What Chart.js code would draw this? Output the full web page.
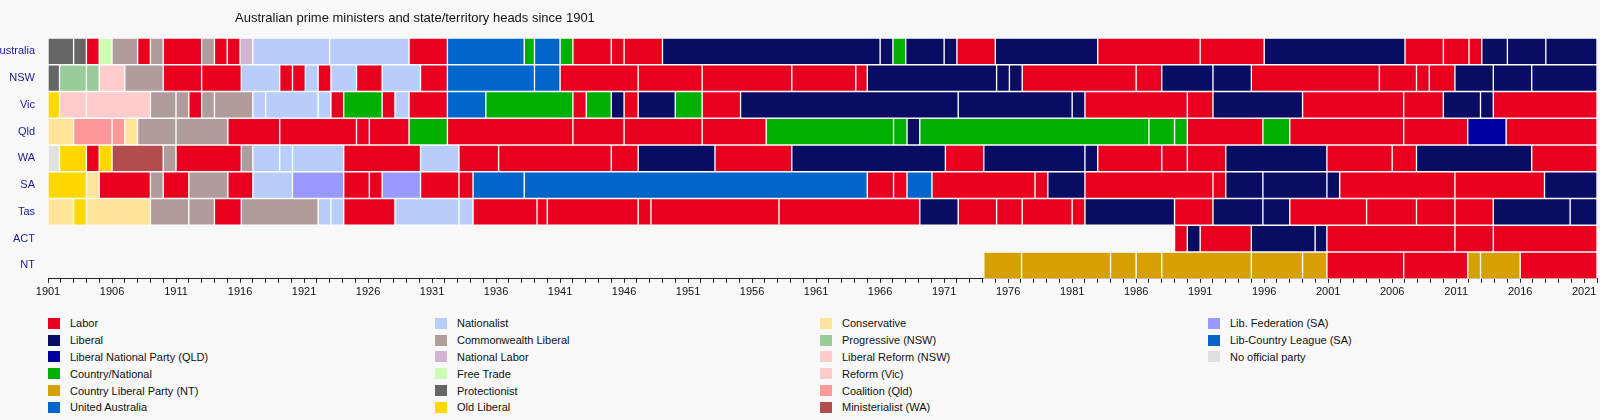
<!DOCTYPE html>
<html>
<head>
<meta charset="utf-8">
<script src="https://cdn.jsdelivr.net/npm/chart.js@4"></script>
<style>
  body { margin: 0; background: #f8f8f8; font-family: "Liberation Sans", Arial, sans-serif; }
  #wrap { position: relative; width: 1600px; height: 420px; }
  #title { position: absolute; left: 235px; top: 10px; font-size: 13px; color: #111; }
  #legend { position: absolute; left: 48px; top: 315px; width: 1550px; font-size: 11px; color: #111; }
  .col { position: absolute; top: 0; }
  .item { height: 16.8px; display: flex; align-items: center; white-space: nowrap; }
  .sw { width: 12px; height: 11px; margin-right: 10px; }
</style>
</head>
<body>
<div id="wrap">
  <div id="title">Australian prime ministers and state/territory heads since 1901</div>
  <canvas id="c" width="1600" height="302"></canvas>
  <div id="legend"></div>
</div>
<script>
const rows = ['Australia', 'NSW', 'Vic', 'Qld', 'WA', 'SA', 'Tas', 'ACT', 'NT'];

const partyColors = {
  'Labor': '#e8001e', 'Liberal': '#080c63', 'Liberal National Party (QLD)': '#0000a0',
  'Country/National': '#00b000', 'Country Liberal Party (NT)': '#d6a000', 'United Australia': '#0066cc',
  'Nationalist': '#b8cdfa', 'Commonwealth Liberal': '#b09c9a', 'National Labor': '#d2b4d2',
  'Free Trade': '#ccffb3', 'Protectionist': '#666666', 'Old Liberal': '#ffd700',
  'Conservative': '#ffe399', 'Progressive (NSW)': '#99cc99', 'Liberal Reform (NSW)': '#ffcccc',
  'Reform (Vic)': '#ffcccc', 'Coalition (Qld)': '#ff9999', 'Ministerialist (WA)': '#b34d4d',
  'Lib. Federation (SA)': '#9999ff', 'Lib-Country League (SA)': '#0066cc', 'No official party': '#e0e0e0'
};
const legendCols = [
  ['Labor', 'Liberal', 'Liberal National Party (QLD)', 'Country/National', 'Country Liberal Party (NT)', 'United Australia'],
  ['Nationalist', 'Commonwealth Liberal', 'National Labor', 'Free Trade', 'Protectionist', 'Old Liberal'],
  ['Conservative', 'Progressive (NSW)', 'Liberal Reform (NSW)', 'Reform (Vic)', 'Coalition (Qld)', 'Ministerialist (WA)'],
  ['Lib. Federation (SA)', 'Lib-Country League (SA)', 'No official party']
];

const L = 'Labor', LIB = 'Liberal', CP = 'Country/National', UAP = 'United Australia', NAT = 'Nationalist',
      CL = 'Commonwealth Liberal', PROT = 'Protectionist', OL = 'Old Liberal', CON = 'Conservative',
      CLP = 'Country Liberal Party (NT)';

const australia = [[1901,1903,PROT],[1903,1904,PROT],[1904,1905,L],[1905,1906,'Free Trade'],[1906,1908,CL],[1908,1909,L],
  [1909,1910,CL],[1910,1913,L],[1913,1914,CL],[1914,1915,L],[1915,1916,L],[1916,1917,'National Labor'],[1917,1923,NAT],
  [1923,1929.2,NAT],[1929.2,1932.2,L],[1932.2,1938.2,UAP],[1938.2,1939,CP],[1939,1941,UAP],[1941,1942,CP],[1942,1945,L],
  [1945,1946,L],[1946,1949,L],[1949,1966,LIB],[1966,1967,LIB],[1967,1968,CP],[1968,1971,LIB],[1971,1972,LIB],[1972,1975,L],
  [1975,1983,LIB],[1983,1991,L],[1991,1996,L],[1996,2007,LIB],[2007,2010,L],[2010,2012,L],[2012,2013,L],[2013,2015,LIB],
  [2015,2018,LIB],[2018,2022,LIB]];
const nsw = [[1901,1901.9,PROT],[1901.9,1904,'Progressive (NSW)'],[1904,1905,'Progressive (NSW)'],[1905,1907,'Liberal Reform (NSW)'],
  [1907,1910,CL],[1910,1913,L],[1913,1916.1,L],[1916.1,1919.1,NAT],[1919.1,1920.1,L],[1920.1,1921.1,L],[1921.1,1922.1,NAT],
  [1922.1,1923.1,L],[1923.1,1925.1,NAT],[1925.1,1927.1,L],[1927.1,1930.1,NAT],[1930.1,1932.2,L],[1932.2,1939,UAP],[1939,1941,UAP],
  [1941,1947.1,L],[1947.1,1952.1,L],[1952.1,1959.1,L],[1959.1,1964.1,L],[1964.1,1965,L],[1965,1975.1,LIB],[1975.1,1976.1,LIB],
  [1976.1,1977.1,LIB],[1977.1,1986,L],[1986,1988,L],[1988,1992,LIB],[1992,1995,LIB],[1995,2005,L],[2005,2007.9,L],
  [2007.9,2008.9,L],[2008.9,2010.9,L],[2010.9,2013.9,LIB],[2013.9,2016.9,LIB],[2016.9,2022,LIB]];
const vic = [[1901,1901.9,OL],[1901.9,1904,'Reform (Vic)'],[1904,1909,'Reform (Vic)'],[1909,1911,CL],[1911,1912,CL],[1912,1913,L],
  [1913,1914,CL],[1914,1917,CL],[1917,1918,NAT],[1918,1922.1,NAT],[1922.1,1923.1,NAT],[1923.1,1924.1,L],[1924.1,1927.1,CP],
  [1927.1,1928.1,L],[1928.1,1929.2,NAT],[1929.2,1932.2,L],[1932.2,1935.2,UAP],[1935.2,1942,CP],[1942,1943.05,L],[1943.05,1945,CP],
  [1945,1946,LIB],[1946,1947.1,L],[1947.1,1950,LIB],[1950,1952.1,CP],[1952.1,1955.1,L],[1955.1,1972.1,LIB],[1972.1,1981,LIB],
  [1981,1982,LIB],[1982,1990,L],[1990,1992,L],[1992,1999,LIB],[1999,2006.9,L],[2006.9,2010,L],[2010,2012.9,LIB],
  [2012.9,2013.9,LIB],[2013.9,2022,L]];
const qld = [[1901,1903,CON],[1903,1906,'Coalition (Qld)'],[1906,1907,'Coalition (Qld)'],[1907,1908,CON],[1908,1911,CL],
  [1911,1915.05,CL],[1915.05,1919.1,L],[1919.1,1925.1,L],[1925.1,1926.1,L],[1926.1,1929.2,L],[1929.2,1932.2,CP],[1932.2,1942,L],
  [1942,1946,L],[1946,1952.1,L],[1952.1,1957.1,L],[1957.1,1967.05,CP],[1967.05,1968.1,CP],[1968.1,1969.1,LIB],[1969.1,1987,CP],
  [1987,1989,CP],[1989,1990,CP],[1990,1995.9,L],[1995.9,1998,CP],[1998,2006.9,L],[2006.9,2011.9,L],
  [2011.9,2014.9,'Liberal National Party (QLD)'],[2014.9,2022,L]];
const wa = [[1901,1901.9,'No official party'],[1901.9,1904,OL],[1904,1905,L],[1905,1906,OL],[1906,1910,'Ministerialist (WA)'],
  [1910,1911,CL],[1911,1916.1,L],[1916.1,1917,CL],[1917,1919.1,NAT],[1919.1,1920.1,NAT],[1920.1,1924.1,NAT],[1924.1,1930.1,L],
  [1930.1,1933.1,NAT],[1933.1,1936.2,L],[1936.2,1945,L],[1945,1947.1,L],[1947.1,1953.1,LIB],[1953.1,1959.1,L],[1959.1,1971.1,LIB],
  [1971.1,1974.1,L],[1974.1,1982,LIB],[1982,1983,LIB],[1983,1988,L],[1988,1990,L],[1990,1993,L],[1993,2000.9,LIB],
  [2000.9,2006,L],[2006,2007.9,L],[2007.9,2016.9,LIB],[2016.9,2022,L]];
const sa = [[1901,1904,OL],[1904,1905,CON],[1905,1909,L],[1909,1910,CL],[1910,1912,L],[1912,1915.05,CL],[1915.05,1917,L],
  [1917,1920.1,NAT],[1920.1,1924.1,'Lib. Federation (SA)'],[1924.1,1926.1,L],[1926.1,1927.1,L],[1927.1,1930.1,'Lib. Federation (SA)'],
  [1930.1,1933.1,L],[1933.1,1934.2,L],[1934.2,1938.2,'Lib-Country League (SA)'],[1938.2,1965,'Lib-Country League (SA)'],
  [1965,1967.05,L],[1967.05,1968.1,L],[1968.1,1970.05,'Lib-Country League (SA)'],[1970.05,1978.1,L],[1978.1,1979.1,L],
  [1979.1,1982,LIB],[1982,1992,L],[1992,1993,L],[1993,1995.9,LIB],[1995.9,2000.9,LIB],[2000.9,2001.9,LIB],[2001.9,2010.9,L],
  [2010.9,2017.9,L],[2017.9,2022,LIB]];
const tas = [[1901,1903,CON],[1903,1904,OL],[1904,1909,CON],[1909,1912,CL],[1912,1914,CL],[1914,1916.1,L],[1916.1,1922.1,CL],
  [1922.1,1923.1,NAT],[1923.1,1924.1,NAT],[1924.1,1928.1,L],[1928.1,1933.1,NAT],[1933.1,1934.2,NAT],[1934.2,1939.2,L],
  [1939.2,1940,L],[1940,1947.1,L],[1947.1,1948.1,L],[1948.1,1958.1,L],[1958.1,1969.1,L],[1969.1,1972.1,LIB],[1972.1,1975.1,L],
  [1975.1,1977.1,L],[1977.1,1981,L],[1981,1982,L],[1982,1989,LIB],[1989,1992,L],[1992,1995.9,LIB],[1995.9,1998,LIB],
  [1998,2004,L],[2004,2007.9,L],[2007.9,2010.9,L],[2010.9,2013.9,L],[2013.9,2019.9,LIB],[2019.9,2022,LIB]];
const act = [[1989,1990,L],[1990,1991,LIB],[1991,1995,L],[1995,1999.98,LIB],[1999.98,2000.9,LIB],[2000.9,2010.9,L],
  [2010.9,2013.9,L],[2013.9,2022,L]];
const nt = [[1974.1,1977.05,CLP],[1977.05,1984,CLP],[1984,1986,CLP],[1986,1988,CLP],[1988,1995,CLP],[1995,1999,CLP],
  [1999,2000.9,CLP],[2000.9,2006.9,L],[2006.9,2011.9,L],[2011.9,2012.9,CLP],[2012.9,2016,CLP],[2016,2022,L]];

const rowData = [australia, nsw, vic, qld, wa, sa, tas, act, nt];

Chart.defaults.font.family = '"Liberation Sans", Arial, sans-serif';

// one dataset per segment slot, each row fills its own slot
const maxSeg = Math.max(...rowData.map(r => r.length));
const datasets = [];
for (let i = 0; i < maxSeg; i++) {
  datasets.push({
    data: rowData.map(r => r[i] ? [r[i][0], r[i][1]] : null),
    backgroundColor: rowData.map(r => r[i] ? partyColors[r[i][2]] : 'transparent'),
    borderColor: '#ffffff',
    borderWidth: 1,
    borderSkipped: false,
    grouped: false,
    barPercentage: 1,
    categoryPercentage: 1
  });
}

new Chart(document.getElementById('c'), {
  type: 'bar',
  data: { labels: rows, datasets: datasets },
  options: {
    indexAxis: 'y',
    responsive: false,
    animation: false,
    layout: { padding: { top: 38, right: 35 } },
    plugins: { legend: { display: false }, tooltip: { enabled: false } },
    scales: {
      x: {
        min: 1901, max: 2022,
        afterFit: s => { s.paddingRight = 0; },
        ticks: {
          stepSize: 1, autoSkip: false, maxRotation: 0, color: '#111', font: { size: 11 },
          callback: v => ((v - 1901) % 5 === 0 ? String(v) : '')
        },
        grid: { drawOnChartArea: false, color: '#222', tickLength: 4 },
        border: { color: '#222' }
      },
      y: {
        afterFit: s => { s.width = 48; },
        ticks: { color: '#1a1a9a', font: { size: 11 }, padding: 5 },
        grid: { display: false },
        border: { display: false }
      }
    }
  },
  plugins: [{
    id: 'rightEdge',
    beforeLayout(chart) { chart.options.layout.padding.right = 3; }
  }]
});

const leg = document.getElementById('legend');
const colX = [0, 387, 772, 1160];
legendCols.forEach((col, ci) => {
  const d = document.createElement('div');
  d.className = 'col';
  d.style.left = colX[ci] + 'px';
  col.forEach(name => {
    const it = document.createElement('div');
    it.className = 'item';
    it.innerHTML = '<span class="sw" style="background:' + partyColors[name] + '"></span>' + name;
    d.appendChild(it);
  });
  leg.appendChild(d);
});
</script>
</body>
</html>
